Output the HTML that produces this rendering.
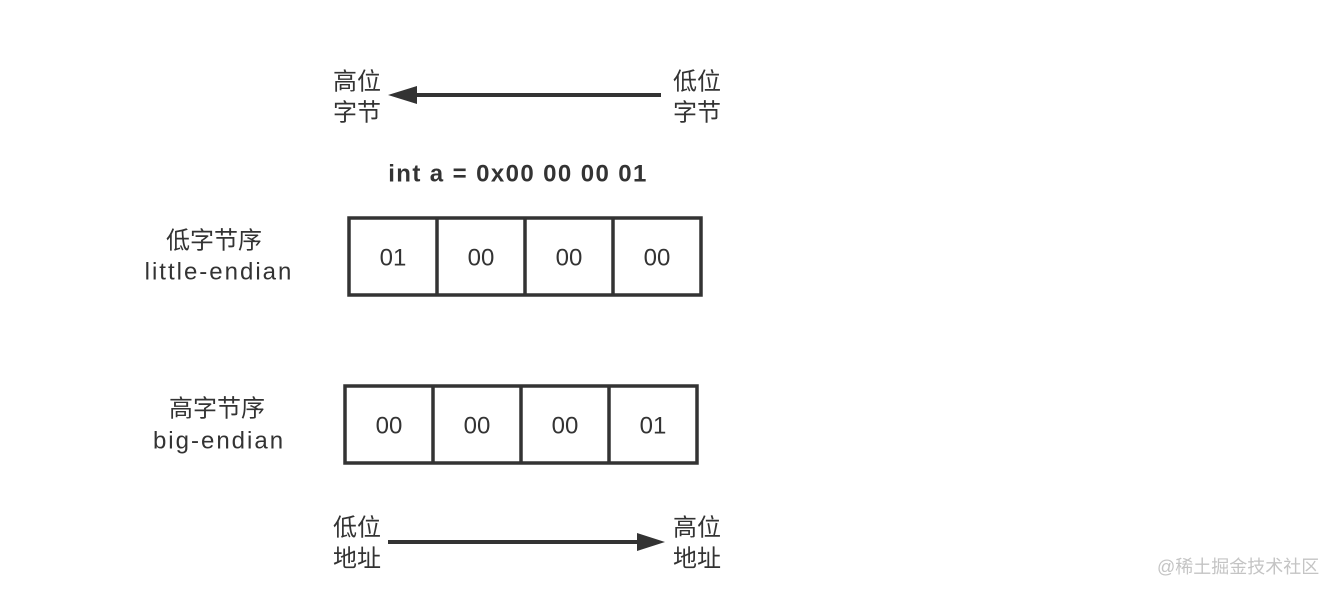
<!DOCTYPE html>
<html>
<head>
<meta charset="utf-8">
<style>
  html, body { margin: 0; padding: 0; background: #ffffff; }
  body { width: 1336px; height: 596px; overflow: hidden; }
  svg { display: block; }
  .cjk { font-family: "Liberation Sans", "Noto Sans CJK SC", sans-serif; font-size: 24px; fill: #333333; }
  .lat { font-family: "Liberation Sans", "Noto Sans CJK SC", sans-serif; font-size: 24px; fill: #333333; letter-spacing: 2px; }
  .cell { font-family: "Liberation Sans", sans-serif; font-size: 24px; fill: #333333; }
  .title { font-family: "Liberation Sans", sans-serif; font-size: 24px; font-weight: bold; fill: #333333; letter-spacing: 1.4px; }
  .wm { font-family: "Liberation Sans", "Noto Sans CJK SC", sans-serif; font-size: 18px; fill: #c4c4c4; }
</style>
</head>
<body>
<svg width="1336" height="596" viewBox="0 0 1336 596" xmlns="http://www.w3.org/2000/svg">
  <rect x="0" y="0" width="1336" height="596" fill="#ffffff"/>

  <!-- Top arrow -->
  <line x1="414" y1="95" x2="661" y2="95" stroke="#333333" stroke-width="4"/>
  <polygon points="388,95 417,86 417,104" fill="#333333"/>
  <text class="cjk" x="357" y="82" text-anchor="middle" dominant-baseline="central">高位</text>
  <text class="cjk" x="357" y="113" text-anchor="middle" dominant-baseline="central">字节</text>
  <text class="cjk" x="697" y="82" text-anchor="middle" dominant-baseline="central">低位</text>
  <text class="cjk" x="697" y="113" text-anchor="middle" dominant-baseline="central">字节</text>

  <!-- Title -->
  <text class="title" x="518" y="174" text-anchor="middle" dominant-baseline="central">int a = 0x00 00 00 01</text>

  <!-- Little endian -->
  <text class="cjk" x="214" y="241" text-anchor="middle" dominant-baseline="central">低字节序</text>
  <text class="lat" x="219" y="272" text-anchor="middle" dominant-baseline="central">little-endian</text>
  <rect x="349" y="218" width="352" height="77" fill="none" stroke="#333333" stroke-width="3.5"/>
  <line x1="437" y1="218" x2="437" y2="295" stroke="#333333" stroke-width="3.5"/>
  <line x1="525" y1="218" x2="525" y2="295" stroke="#333333" stroke-width="3.5"/>
  <line x1="613" y1="218" x2="613" y2="295" stroke="#333333" stroke-width="3.5"/>
  <text class="cell" x="393" y="258" text-anchor="middle" dominant-baseline="central">01</text>
  <text class="cell" x="481" y="258" text-anchor="middle" dominant-baseline="central">00</text>
  <text class="cell" x="569" y="258" text-anchor="middle" dominant-baseline="central">00</text>
  <text class="cell" x="657" y="258" text-anchor="middle" dominant-baseline="central">00</text>

  <!-- Big endian -->
  <text class="cjk" x="217" y="409" text-anchor="middle" dominant-baseline="central">高字节序</text>
  <text class="lat" x="219" y="441" text-anchor="middle" dominant-baseline="central">big-endian</text>
  <rect x="345" y="386" width="352" height="77" fill="none" stroke="#333333" stroke-width="3.5"/>
  <line x1="433" y1="386" x2="433" y2="463" stroke="#333333" stroke-width="3.5"/>
  <line x1="521" y1="386" x2="521" y2="463" stroke="#333333" stroke-width="3.5"/>
  <line x1="609" y1="386" x2="609" y2="463" stroke="#333333" stroke-width="3.5"/>
  <text class="cell" x="389" y="426" text-anchor="middle" dominant-baseline="central">00</text>
  <text class="cell" x="477" y="426" text-anchor="middle" dominant-baseline="central">00</text>
  <text class="cell" x="565" y="426" text-anchor="middle" dominant-baseline="central">00</text>
  <text class="cell" x="653" y="426" text-anchor="middle" dominant-baseline="central">01</text>

  <!-- Bottom arrow -->
  <line x1="388" y1="542" x2="640" y2="542" stroke="#333333" stroke-width="4"/>
  <polygon points="665,542 637,533 637,551" fill="#333333"/>
  <text class="cjk" x="357" y="528" text-anchor="middle" dominant-baseline="central">低位</text>
  <text class="cjk" x="357" y="559" text-anchor="middle" dominant-baseline="central">地址</text>
  <text class="cjk" x="697" y="528" text-anchor="middle" dominant-baseline="central">高位</text>
  <text class="cjk" x="697" y="559" text-anchor="middle" dominant-baseline="central">地址</text>

  <!-- Watermark -->
  <text class="wm" x="1157" y="567" dominant-baseline="central">@稀土掘金技术社区</text>
</svg>
</body>
</html>
